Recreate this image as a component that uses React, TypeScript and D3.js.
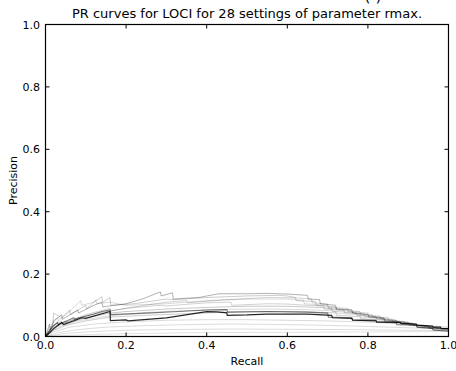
import React from "react";
import * as d3 from "d3";

const xTicks = [0, 0.2, 0.4, 0.6, 0.8, 1.0];
const yTicks = [0, 0.2, 0.4, 0.6, 0.8, 1.0];

type Pt = [number, number];

const curveBlack: Pt[] = [[0,0],[0.01,0.012],[0.02,0.025],[0.04,0.045],[0.045,0.038],[0.09,0.06],[0.1,0.058],[0.16,0.08],[0.161,0.051],[0.2,0.053],[0.205,0.05],[0.3,0.06],[0.4,0.08],[0.425,0.079],[0.45,0.076],[0.451,0.068],[0.5,0.069],[0.55,0.072],[0.6,0.072],[0.65,0.072],[0.71,0.068],[0.712,0.06],[0.76,0.058],[0.762,0.052],[0.82,0.05],[0.822,0.047],[0.88,0.045],[0.882,0.042],[0.92,0.04],[0.922,0.036],[0.96,0.033],[0.962,0.03],[0.98,0.03],[0.982,0.025],[1.0,0.025]];
const curveDark: Pt[] = [[0,0],[0.015,0.03],[0.03,0.045],[0.032,0.038],[0.07,0.06],[0.072,0.055],[0.12,0.072],[0.14,0.08],[0.16,0.085],[0.162,0.07],[0.25,0.075],[0.33,0.08],[0.4,0.085],[0.45,0.086],[0.452,0.078],[0.55,0.08],[0.65,0.078],[0.7,0.075],[0.702,0.062],[0.76,0.06],[0.762,0.054],[0.82,0.052],[0.822,0.046],[0.87,0.044],[0.872,0.038],[0.92,0.036],[0.922,0.03],[0.96,0.026],[0.962,0.021],[1.0,0.017]];
const curveU1: Pt[] = [[0,0],[0.01,0.04],[0.012,0.02],[0.02,0.05],[0.04,0.07],[0.042,0.055],[0.08,0.085],[0.082,0.075],[0.12,0.1],[0.14,0.11],[0.142,0.095],[0.2,0.105],[0.24,0.12],[0.285,0.143],[0.287,0.13],[0.315,0.14],[0.317,0.12],[0.38,0.125],[0.43,0.137],[0.5,0.137],[0.55,0.138],[0.6,0.136],[0.65,0.132],[0.652,0.12],[0.68,0.118],[0.682,0.105],[0.72,0.1],[0.722,0.088],[0.76,0.085],[0.762,0.075],[0.8,0.07],[0.802,0.062],[0.84,0.058],[0.842,0.05],[0.88,0.046],[0.882,0.04],[0.92,0.036],[0.922,0.03],[0.96,0.027],[0.962,0.022],[1.0,0.02]];
const curveSpike: Pt[] = [[0,0],[0.018,0.03],[0.02,0.075],[0.04,0.06],[0.06,0.085],[0.062,0.07],[0.1,0.1],[0.102,0.088],[0.12,0.11],[0.14,0.128],[0.142,0.11],[0.155,0.12],[0.16,0.125],[0.162,0.1],[0.22,0.105],[0.3,0.12],[0.32,0.118],[0.4,0.125],[0.5,0.13],[0.58,0.132],[0.6,0.13],[0.62,0.125],[0.622,0.115],[0.67,0.112],[0.672,0.1],[0.72,0.095],[0.722,0.085],[0.78,0.08],[0.782,0.07],[0.83,0.065],[0.832,0.056],[0.87,0.052],[0.872,0.046],[0.91,0.042],[0.912,0.036],[0.95,0.033],[0.952,0.028],[1.0,0.025]];
const curveU2: Pt[] = [[0,0],[0.02,0.035],[0.04,0.05],[0.042,0.04],[0.1,0.07],[0.16,0.09],[0.162,0.082],[0.22,0.095],[0.3,0.11],[0.35,0.115],[0.352,0.108],[0.45,0.118],[0.55,0.125],[0.62,0.124],[0.66,0.12],[0.662,0.108],[0.7,0.104],[0.702,0.094],[0.75,0.09],[0.752,0.08],[0.8,0.075],[0.802,0.066],[0.85,0.06],[0.852,0.052],[0.9,0.046],[0.902,0.04],[0.95,0.034],[0.952,0.028],[1.0,0.024]];
const curveU3: Pt[] = [[0,0],[0.01,0.02],[0.03,0.045],[0.032,0.035],[0.08,0.06],[0.15,0.08],[0.2,0.09],[0.28,0.1],[0.3,0.098],[0.4,0.108],[0.46,0.11],[0.462,0.1],[0.55,0.105],[0.6,0.104],[0.65,0.1],[0.69,0.098],[0.692,0.088],[0.74,0.085],[0.742,0.076],[0.79,0.072],[0.792,0.064],[0.84,0.06],[0.842,0.052],[0.89,0.048],[0.892,0.041],[0.94,0.036],[0.942,0.03],[1.0,0.026]];
const curveU4: Pt[] = [[0,0],[0.02,0.03],[0.05,0.05],[0.052,0.042],[0.1,0.06],[0.16,0.075],[0.2,0.08],[0.3,0.088],[0.4,0.093],[0.5,0.097],[0.6,0.097],[0.68,0.093],[0.71,0.09],[0.712,0.08],[0.77,0.077],[0.772,0.068],[0.82,0.064],[0.822,0.056],[0.87,0.052],[0.872,0.045],[0.92,0.04],[0.922,0.034],[0.97,0.03],[0.972,0.025],[1.0,0.023]];
const curveU5: Pt[] = [[0,0],[0.03,0.03],[0.08,0.05],[0.15,0.065],[0.25,0.077],[0.35,0.083],[0.45,0.087],[0.55,0.088],[0.65,0.086],[0.72,0.082],[0.722,0.074],[0.78,0.07],[0.782,0.062],[0.84,0.057],[0.842,0.05],[0.9,0.045],[0.902,0.038],[0.95,0.033],[0.952,0.028],[1.0,0.025]];
const curveEarly: Pt[] = [[0,0],[0.01,0.03],[0.03,0.06],[0.032,0.05],[0.06,0.08],[0.087,0.115],[0.09,0.1],[0.12,0.11],[0.125,0.118],[0.127,0.105],[0.16,0.11],[0.2,0.1],[0.3,0.105],[0.4,0.115],[0.5,0.12],[0.6,0.12],[0.64,0.116],[0.642,0.105],[0.7,0.1],[0.702,0.09],[0.76,0.086],[0.762,0.076],[0.81,0.07],[0.812,0.062],[0.86,0.056],[0.862,0.048],[0.91,0.043],[0.912,0.037],[0.96,0.032],[0.962,0.027],[1.0,0.024]];
const curveU6: Pt[] = [[0,0],[0.02,0.02],[0.05,0.035],[0.1,0.05],[0.16,0.062],[0.25,0.068],[0.35,0.073],[0.45,0.078],[0.55,0.08],[0.65,0.079],[0.72,0.076],[0.722,0.068],[0.78,0.064],[0.782,0.057],[0.84,0.052],[0.842,0.046],[0.9,0.042],[0.902,0.036],[0.95,0.032],[0.952,0.027],[1.0,0.025]];
const curveL1: Pt[] = [[0,0],[0.02,0.015],[0.06,0.03],[0.12,0.04],[0.2,0.047],[0.3,0.052],[0.4,0.054],[0.5,0.054],[0.6,0.052],[0.7,0.05],[0.75,0.048],[0.8,0.046],[0.85,0.043],[0.9,0.04],[0.95,0.035],[1.0,0.03]];
const curveL2: Pt[] = [[0,0],[0.03,0.012],[0.08,0.022],[0.15,0.03],[0.25,0.035],[0.35,0.038],[0.45,0.04],[0.55,0.039],[0.65,0.037],[0.75,0.034],[0.85,0.03],[0.95,0.026],[1.0,0.024]];
const curveL3: Pt[] = [[0,0],[0.05,0.01],[0.12,0.016],[0.2,0.02],[0.3,0.022],[0.45,0.024],[0.6,0.023],[0.75,0.022],[0.9,0.02],[1.0,0.019]];
const curveL4: Pt[] = [[0,0],[0.1,0.006],[0.2,0.009],[0.35,0.012],[0.5,0.013],[0.7,0.014],[0.85,0.015],[1.0,0.016]];

const series: { pts: Pt[]; op: number; w: number }[] = [
  { pts: curveL4, op: 0.12, w: 1 },
  { pts: curveL3, op: 0.14, w: 1 },
  { pts: curveL2, op: 0.14, w: 1 },
  { pts: curveL1, op: 0.15, w: 1 },
  { pts: curveU5, op: 0.15, w: 1 },
  { pts: curveEarly, op: 0.15, w: 1 },
  { pts: curveU3, op: 0.18, w: 1 },
  { pts: curveU2, op: 0.18, w: 1 },
  { pts: curveSpike, op: 0.2, w: 1 },
  { pts: curveU4, op: 0.22, w: 1 },
  { pts: curveU6, op: 0.2, w: 1 },
  { pts: curveU1, op: 0.3, w: 1 },
  { pts: curveDark, op: 0.5, w: 1.1 },
  { pts: curveBlack, op: 0.85, w: 1.2 },
];

const W = 456, H = 371;
const L = 45.5, R = 448.5, T = 24.5, B = 336.5;

export default function App() {
  const x = d3.scaleLinear().domain([0, 1]).range([L, R]);
  const y = d3.scaleLinear().domain([0, 1]).range([B, T]);
  const line = d3.line<Pt>().x(d => x(d[0])).y(d => y(d[1]));
  const fmt = d3.format(".1f");
  const font = "DejaVu Sans, sans-serif";
  return (
    <svg width={W} height={H} style={{ position: "absolute", left: 0, top: 0, background: "#fff" }}>
      <rect x={0} y={0} width={W} height={H} fill="#fff" />
      <defs>
        <clipPath id="plot"><rect x={L} y={T} width={R - L} height={B - T} /></clipPath>
      </defs>
      <text x={373} y={1} fontFamily={font} fontSize={16} textAnchor="middle">(   )</text>
      <text x={(L + R) / 2} y={18} fontFamily={font} fontSize={13} textAnchor="middle">PR curves for LOCI for 28 settings of parameter rmax.</text>
      <g clipPath="url(#plot)">
        {series.map((s, i) => (
          <path key={i} d={line(s.pts) || ""} fill="none" stroke="#000" strokeOpacity={s.op} strokeWidth={s.w} strokeLinejoin="miter" />
        ))}
      </g>
      <rect x={L} y={T} width={R - L} height={B - T} fill="none" stroke="#000" strokeWidth={1.2} />
      {xTicks.map((t, i) => (
        <g key={"x" + i}>
          <line x1={x(t)} x2={x(t)} y1={B} y2={B - 4} stroke="#000" />
          <line x1={x(t)} x2={x(t)} y1={T} y2={T + 4} stroke="#000" />
          <text x={x(t)} y={349} fontFamily={font} fontSize={11} textAnchor="middle">{fmt(t)}</text>
        </g>
      ))}
      {yTicks.map((t, i) => (
        <g key={"y" + i}>
          <line x1={L} x2={L + 4} y1={y(t)} y2={y(t)} stroke="#000" />
          <line x1={R} x2={R - 4} y1={y(t)} y2={y(t)} stroke="#000" />
          <text x={40} y={y(t) + 4} fontFamily={font} fontSize={11} textAnchor="end">{fmt(t)}</text>
        </g>
      ))}
      <text x={(L + R) / 2} y={365} fontFamily={font} fontSize={11} textAnchor="middle">Recall</text>
      <text transform={`translate(17,${(T + B) / 2}) rotate(-90)`} fontFamily={font} fontSize={11} textAnchor="middle">Precision</text>
    </svg>
  );
}
